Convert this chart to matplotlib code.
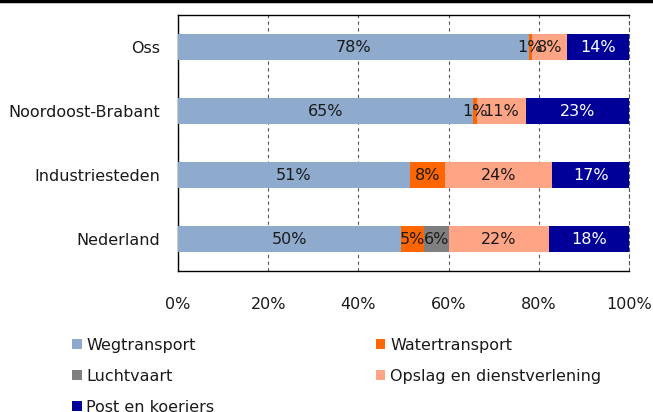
import matplotlib
matplotlib.use("Agg")
import matplotlib.pyplot as plt
from matplotlib.lines import Line2D
from matplotlib.patches import Patch

regions = ["Oss", "Noordoost-Brabant", "Industriesteden", "Nederland"]
series = ["Wegtransport", "Watertransport", "Luchtvaart",
          "Opslag en dienstverlening", "Post en koeriers"]
wegtransport = [77.8, 65.4, 51.4, 49.4]
watertransport = [0.6, 0.9, 7.8, 5.1]
luchtvaart = [0.0, 0.0, 0.0, 5.5]
opslag = [7.8, 10.9, 23.8, 22.3]
post = [13.8, 22.8, 17.0, 17.7]
labels = [
    ["78%", "1%", "", "8%", "14%"],
    ["65%", "1%", "", "11%", "23%"],
    ["51%", "8%", "", "24%", "17%"],
    ["50%", "5%", "6%", "22%", "18%"],
]
xticks = [0, 20, 40, 60, 80, 100]
xticklabels = ["0%", "20%", "40%", "60%", "80%", "100%"]

colors = ["#8eabcd", "#ff6600", "#7f7f7f", "#ffa586", "#000099"]
text_colors = ["#1a1a1a", "#1a1a1a", "#1a1a1a", "#1a1a1a", "white"]

plt.rcParams['font.family'] = ['DejaVu Sans']
fig = plt.figure(figsize=(6.53, 4.12), dpi=100)
ax = fig.add_axes([178/653, 1 - 271/412, 451/653, 256/412])

data = [wegtransport, watertransport, luchtvaart, opslag, post]
ypos = list(range(len(regions)))
left = [0.0] * len(regions)
for si, vals in enumerate(data):
    ax.barh(ypos, vals, left=left, height=0.4, color=colors[si], zorder=3)
    for ri, v in enumerate(vals):
        lab = labels[ri][si]
        if lab:
            ax.text(left[ri] + v / 2, ypos[ri], lab, ha="center", va="center",
                    fontsize=11.5, color=text_colors[si], zorder=4)
    left = [l + v for l, v in zip(left, vals)]

ax.set_xlim(0, 100)
ax.set_ylim(len(regions) - 0.5, -0.5)
ax.set_yticks(ypos)
ax.set_yticklabels(regions, fontsize=11.5, color="#1a1a1a")
ax.set_xticks(xticks)
ax.set_xticklabels(xticklabels, fontsize=11.5, color="#1a1a1a")
ax.tick_params(axis="both", length=0)
ax.tick_params(axis="x", pad=19)
ax.tick_params(axis="y", pad=13)
ax.grid(axis="x", linestyle=(0, (3, 3)), color="#555555", linewidth=0.8, zorder=1)
for s in ["left", "bottom", "top"]:
    ax.spines[s].set_color("black")
    ax.spines[s].set_linewidth(1.0)
ax.spines["right"].set_color("#555555")
ax.spines["right"].set_linestyle((0, (3, 3)))
ax.spines["right"].set_linewidth(0.8)

fig.add_artist(Line2D([0, 1], [1 - 1/412, 1 - 1/412], color="black", linewidth=2.5,
                      transform=fig.transFigure))

# legend filled row-major like the reference (matplotlib fills column-major)
order = [0, 2, 4, 1, 3]
handles = [Patch(facecolor=colors[i], edgecolor="none") for i in order]
names = [series[i] for i in order]
leg = fig.legend(handles, names, loc="upper left", bbox_to_anchor=(64/653, 1 - 330/412),
                 ncol=2, frameon=False, fontsize=11.5, handlelength=0.6, handleheight=0.6,
                 handletextpad=0.3, columnspacing=10.1, labelspacing=1.0,
                 borderpad=0, labelcolor="#1a1a1a")

fig.savefig("out.png", dpi=100)
